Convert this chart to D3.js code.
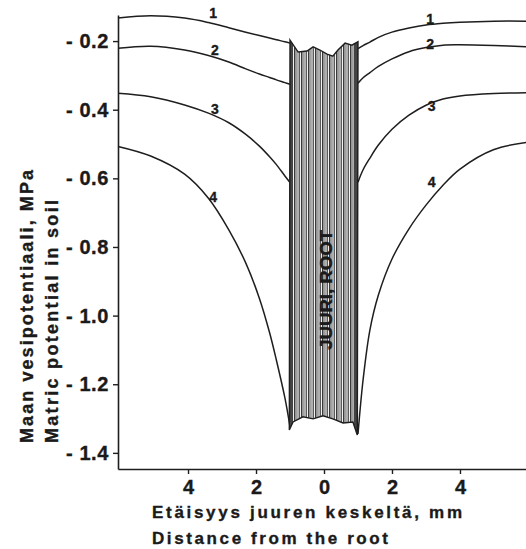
<!DOCTYPE html>
<html>
<head>
<meta charset="utf-8">
<script src="https://cdn.jsdelivr.net/npm/d3@7"></script>
<style>
  body { margin: 0; background: #fff; }
  svg text { font-family: 'Liberation Sans', Arial, sans-serif; font-weight: bold; fill: #1a1a1a; stroke: #1a1a1a; stroke-width: 0.35px; }
</style>
</head>
<body>
<div id="chart"></div>
<script>
// distance from the root centre, mm (left side negative)
const distLeft = [-6.06, -5.1, -4.1, -3.4, -2.8, -2.3, -1.9, -1.6, -1.4, -1.15, -1.0];
const distRight = [1.0, 1.15, 1.35, 1.6, 2.0, 2.5, 3.0, 3.5, 4.0, 5.0, 6.06];

// matric potential, MPa
const curve1Left = [-0.133, -0.126, -0.133, -0.146, -0.161, -0.174, -0.184, -0.191, -0.196, -0.202, -0.206];
const curve2Left = [-0.221, -0.215, -0.226, -0.242, -0.261, -0.281, -0.296, -0.306, -0.313, -0.321, -0.326];
const curve3Left = [-0.352, -0.362, -0.386, -0.410, -0.438, -0.472, -0.506, -0.537, -0.560, -0.593, -0.612];
const curve4Left = [-0.507, -0.535, -0.588, -0.658, -0.750, -0.847, -0.950, -1.050, -1.130, -1.240, -1.324];

const curve1Right = [-0.222, -0.213, -0.203, -0.189, -0.174, -0.162, -0.153, -0.148, -0.145, -0.142, -0.142];
const curve2Right = [-0.323, -0.307, -0.292, -0.274, -0.252, -0.231, -0.219, -0.212, -0.211, -0.213, -0.217];
const curve3Right = [-0.611, -0.575, -0.541, -0.503, -0.457, -0.416, -0.387, -0.369, -0.360, -0.353, -0.350];
const curve4Right = [-1.345, -1.187, -1.042, -0.940, -0.835, -0.747, -0.678, -0.620, -0.573, -0.516, -0.494];

// root outline
const rootTopX = [-1.0, -0.76, -0.5, -0.32, -0.12, 0.09, 0.26, 0.41, 0.62, 0.82, 1.0];
const rootTopV = [-0.197, -0.232, -0.229, -0.217, -0.226, -0.238, -0.244, -0.226, -0.206, -0.212, -0.202];
const rootBottomX = [-1.02, -0.91, -0.62, -0.32, -0.03, 0.26, 0.56, 0.85, 0.98];
const rootBottomV = [-1.333, -1.310, -1.295, -1.301, -1.292, -1.301, -1.313, -1.310, -1.348];

const curveNames = ['1', '2', '3', '4'];
const labelLeftX = [-3.26, -3.21, -3.21, -3.26];
const labelLeftV = [-0.118, -0.226, -0.398, -0.654];
const labelRightX = [3.12, 3.12, 3.17, 3.17];
const labelRightV = [-0.136, -0.209, -0.389, -0.611];

const xTicks = [-4, -2, 0, 2, 4];
const yTicks = [-0.2, -0.4, -0.6, -0.8, -1.0, -1.2, -1.4];

const width = 526;
const height = 549;
const margin = { top: 15, bottom: 80, left: 118, right: -4 };

const svg = d3.select('#chart').append('svg')
  .attr('width', width).attr('height', height);

const xScale = d3.scaleLinear().domain([-6.06, 6.06]).range([margin.left, width - margin.right]);
const yScale = d3.scaleLinear().domain([-0.124, -1.447]).range([margin.top, height - margin.bottom]);

// stripes for the root
const defs = svg.append('defs');
const pat = defs.append('pattern').attr('id', 'stripes')
  .attr('patternUnits', 'userSpaceOnUse').attr('width', 7).attr('height', 10);
pat.append('rect').attr('width', 7).attr('height', 10).attr('fill', '#f2f2f2');
pat.append('rect').attr('x', 0).attr('width', 1.5).attr('height', 10).attr('fill', '#3a3a3a');
pat.append('rect').attr('x', 2.4).attr('width', 1.1).attr('height', 10).attr('fill', '#6a6a6a');
pat.append('rect').attr('x', 4.6).attr('width', 1.3).attr('height', 10).attr('fill', '#4a4a4a');

const line = d3.line()
  .x(d => xScale(d[0]))
  .y(d => yScale(d[1]))
  .curve(d3.curveCatmullRom.alpha(0.5));

const leftSeries = [curve1Left, curve2Left, curve3Left, curve4Left];
const rightSeries = [curve1Right, curve2Right, curve3Right, curve4Right];

const curvesG = svg.append('g');
leftSeries.forEach(vals => {
  curvesG.append('path')
    .attr('d', line(distLeft.map((d, i) => [d, vals[i]])))
    .attr('fill', 'none').attr('stroke', '#1e1e1e').attr('stroke-width', 1.5);
});
rightSeries.forEach(vals => {
  curvesG.append('path')
    .attr('d', line(distRight.map((d, i) => [d, vals[i]])))
    .attr('fill', 'none').attr('stroke', '#1e1e1e').attr('stroke-width', 1.5);
});

// root body
const rootPts = rootTopX.map((d, i) => [xScale(d), yScale(rootTopV[i])])
  .concat(rootBottomX.map((d, i) => [xScale(d), yScale(rootBottomV[i])]).reverse());
const rootPath = 'M' + rootPts.map(p => p.join(',')).join('L') + 'Z';
defs.append('clipPath').attr('id', 'rootClip').append('path').attr('d', rootPath);

svg.append('path').attr('d', rootPath).attr('fill', 'url(#stripes)');
const edgeG = svg.append('g').attr('clip-path', 'url(#rootClip)');
edgeG.append('rect')
  .attr('x', xScale(-1.0)).attr('y', 0).attr('width', 3).attr('height', height)
  .attr('fill', '#444');
edgeG.append('rect')
  .attr('x', xScale(1.0) - 4).attr('y', 0).attr('width', 4).attr('height', height)
  .attr('fill', '#444');
svg.append('path').attr('d', rootPath)
  .attr('fill', 'none').attr('stroke', '#1e1e1e').attr('stroke-width', 1.4);

svg.append('text')
  .attr('transform', `translate(${xScale(0.06) + 6},${yScale(-0.925)}) rotate(-90)`)
  .attr('text-anchor', 'middle')
  .attr('font-size', 17)
  .attr('textLength', 120).attr('lengthAdjust', 'spacingAndGlyphs')
  .text('JUURI, ROOT');

// curve numbers
curveNames.forEach((n, i) => {
  svg.append('text')
    .attr('x', xScale(labelLeftX[i])).attr('y', yScale(labelLeftV[i]))
    .attr('text-anchor', 'middle').attr('dominant-baseline', 'central')
    .attr('font-size', 14).text(n);
  svg.append('text')
    .attr('x', xScale(labelRightX[i])).attr('y', yScale(labelRightV[i]))
    .attr('text-anchor', 'middle').attr('dominant-baseline', 'central')
    .attr('font-size', 14).text(n);
});

// axes
const yAxis = d3.axisLeft(yScale)
  .tickValues(yTicks).tickSize(5).tickSizeOuter(0).tickPadding(4)
  .tickFormat(d => '- ' + Math.abs(d).toFixed(1));
const xAxis = d3.axisBottom(xScale)
  .tickValues(xTicks).tickSize(5).tickSizeOuter(0).tickPadding(6)
  .tickFormat(d => Math.abs(d));

const yAxisG = svg.append('g').attr('transform', `translate(${margin.left},0)`).call(yAxis);
const xAxisG = svg.append('g').attr('transform', `translate(0,${height - margin.bottom})`).call(xAxis);
[yAxisG, xAxisG].forEach(g => {
  g.attr('font-family', null).attr('font-size', null);
  g.select('.domain').attr('stroke', '#1e1e1e').attr('stroke-width', 1.6);
  g.selectAll('.tick line').attr('stroke', '#1e1e1e').attr('stroke-width', 1.4);
  g.selectAll('.tick text').attr('font-size', 20).attr('fill', '#1a1a1a');
});
yAxisG.selectAll('.tick text').attr('letter-spacing', 0.6);

// axis titles
svg.append('text').attr('x', 152).attr('y', 518)
  .attr('font-size', 17).attr('textLength', 310).attr('lengthAdjust', 'spacing')
  .text('Etäisyys juuren keskeltä, mm');
svg.append('text').attr('x', 152).attr('y', 544)
  .attr('font-size', 17).attr('textLength', 236).attr('lengthAdjust', 'spacing')
  .text('Distance from the root');

svg.append('text').attr('transform', 'translate(33,443) rotate(-90)')
  .attr('font-size', 18).attr('textLength', 273).attr('lengthAdjust', 'spacing')
  .text('Maan vesipotentiaali, MPa');
svg.append('text').attr('transform', 'translate(58,443) rotate(-90)')
  .attr('font-size', 18).attr('textLength', 243).attr('lengthAdjust', 'spacing')
  .text('Matric potential in soil');
</script>
</body>
</html>
